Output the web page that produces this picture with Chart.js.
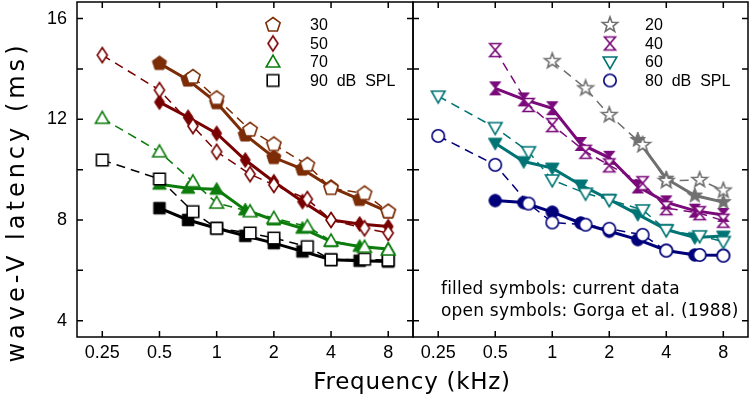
<!DOCTYPE html>
<html>
<head>
<meta charset="utf-8">
<script src="https://cdn.jsdelivr.net/npm/chart.js@4.4.0/dist/chart.umd.min.js"></script>
<style>
  body { margin: 0; background: #fff; }
  #wrap { position: relative; width: 751px; height: 402px; overflow: hidden; }
  .box { position: absolute; top: 0; height: 402px; }
  #leftBox { left: 0; width: 414px; }
  #rightBox { left: 400px; width: 351px; }
  #ytitle { position: absolute; left: -184px; top: 187px; width: 400px; height: 30px; line-height: 30px;
            text-align: center; transform: rotate(-90deg); font-family: 'DejaVu Sans'; font-size: 24px; letter-spacing: 4px; }
  #xtitle { position: absolute; left: 212px; top: 366px; width: 400px; height: 30px; line-height: 30px;
            text-align: center; font-family: 'DejaVu Sans'; font-size: 23px; letter-spacing: 0.7px; }
  #note { position: absolute; left: 441px; top: 277px; font-family: 'DejaVu Sans'; font-size: 17px;
          line-height: 22px; letter-spacing: 0.2px; white-space: pre; }
</style>
</head>
<body>
<div id="wrap">
  <div class="box" id="leftBox"><canvas id="leftChart"></canvas></div>
  <div class="box" id="rightBox"><canvas id="rightChart"></canvas></div>
  <div id="ytitle">wave-V latency (ms)</div>
  <div id="xtitle">Frequency (kHz)</div>
  <div id="note">filled symbols: current data
open symbols: Gorga et al. (1988)</div>
</div>
<script>
// frequencies (kHz)
const freqNew = [0.5, 0.707, 1, 1.414, 2, 2.828, 4, 5.657, 8];
const freqGorga = [0.25, 0.5, 0.75, 1, 1.5, 2, 3, 4, 6, 8];
const xTicks = [0.25, 0.5, 1, 2, 4, 8];
const yTicks = [4, 6, 8, 10, 12, 14, 16];

// left panel, latency in ms
const new30 = [14.22, 13.56, 12.66, 11.38, 10.48, 10.02, 9.30, 8.82, 8.32];
const gorga30 = [null, null, 13.68, 12.83, 11.58, 11.00, 10.19, 9.26, 9.05, 8.33];
const new50 = [12.68, 12.08, 11.44, 10.38, 9.52, 8.73, 8.00, 7.84, 7.74];
const gorga50 = [14.55, 13.16, 11.73, 10.71, 9.82, 9.39, 8.83, 8.00, 7.67, 7.48];
const new70 = [9.42, 9.26, 9.22, 8.40, 8.00, 7.67, 7.14, 6.95, 6.85];
const gorga70 = [12.04, 10.71, 9.52, 8.67, 8.33, 8.07, 7.74, 7.17, 6.92, 6.81];
const new90 = [8.47, 8.00, 7.67, 7.37, 7.08, 6.75, 6.42, 6.38, 6.35];
const gorga90 = [10.38, 9.63, 8.33, 7.67, 7.48, 7.28, 6.94, 6.42, 6.44, 6.40];

// right panel
const new20 = [null, null, null, null, null, 11.18, 9.64, 8.97, 8.71];
const gorga20 = [null, null, null, 14.31, 13.23, 12.17, 10.98, 9.55, 9.59, 9.17];
const new40 = [13.23, 12.79, 12.44, 11.02, 10.47, 9.33, 8.70, 8.37, 8.20];
const gorga40 = [null, 14.75, 12.57, 11.77, 10.71, 10.17, 9.46, 8.47, 8.27, 7.97];
const new60 = [11.05, 10.32, 10.06, 9.39, 8.82, 8.22, 7.62, 7.30, 7.36];
const gorga60 = [12.92, 11.67, 10.71, 9.59, 9.06, 8.80, 8.40, 7.60, 7.37, 7.14];
const new80 = [8.77, 8.69, 8.31, 7.88, 7.55, 7.22, 6.79, 6.61, 6.60];
const gorga80 = [11.34, 10.19, 8.65, 7.90, 7.81, 7.65, 7.41, 6.78, 6.61, 6.58];

const levelsLeft = ['30', '50', '70', '90  dB  SPL'];
const levelsRight = ['20', '40', '60', '80  dB  SPL'];

const C30 = '#7c2c06', C50 = '#780000', C70 = '#0c7c0c', C90 = '#000000';
const C20 = '#707070', C40 = '#7a0a7a', C60 = '#007474', C80 = '#00007a';

function polyPts(n, r, start) {
  const pts = [];
  for (let i = 0; i < n; i++) {
    const a = start + i * 2 * Math.PI / n;
    pts.push([r * Math.cos(a), r * Math.sin(a)]);
  }
  return pts;
}

// build a small canvas used as point style
function marker(shape, color, filled) {
  const c = document.createElement('canvas');
  c.width = 20; c.height = 20;
  const g = c.getContext('2d');
  g.translate(10, 10);
  g.beginPath();
  if (shape === 'circle') {
    g.arc(0, 0, 6.2, 0, Math.PI * 2);
  } else {
    let pts;
    if (shape === 'pentagon') pts = polyPts(5, 7.5, -Math.PI / 2);
    else if (shape === 'diamond') pts = [[0, -7.5], [5, 0], [0, 7.5], [-5, 0]];
    else if (shape === 'triangle') pts = [[0, -6.8], [6.8, 5], [-6.8, 5]];
    else if (shape === 'triangleDown') pts = [[0, 6.8], [6.8, -5], [-6.8, -5]];
    else if (shape === 'square') pts = [[-5.8, -5.8], [5.8, -5.8], [5.8, 5.8], [-5.8, 5.8]];
    else if (shape === 'hourglass') pts = [[-5.5, -6.5], [5.5, -6.5], [-5.5, 6.5], [5.5, 6.5]];
    else if (shape === 'star') {
      pts = [];
      for (let i = 0; i < 10; i++) {
        const r = i % 2 ? 3.3 : 8;
        const a = -Math.PI / 2 + i * Math.PI / 5;
        pts.push([r * Math.cos(a), r * Math.sin(a)]);
      }
    }
    g.moveTo(pts[0][0], pts[0][1]);
    pts.slice(1).forEach(p => g.lineTo(p[0], p[1]));
    g.closePath();
  }
  g.fillStyle = filled ? color : '#fff';
  g.fill();
  g.lineWidth = filled ? 1 : 1.6;
  g.strokeStyle = color;
  g.stroke();
  return c;
}

function series(freqs, vals, color, shape, filled) {
  const pts = [];
  vals.forEach((v, i) => { if (v !== null) pts.push({ x: freqs[i], y: v }); });
  return {
    data: pts,
    borderColor: color,
    borderWidth: filled ? 3 : 1.5,
    borderDash: filled ? [] : [9, 6],
    pointStyle: marker(shape, color, filled),
    pointRadius: 7,
    order: filled ? 1 : 0,
    tension: 0
  };
}

const framePlugin = {
  id: 'frame',
  afterDatasetsDraw(chart) {
    const { ctx, chartArea: a } = chart;
    const x = chart.scales.x, y = chart.scales.y;
    ctx.save();
    ctx.strokeStyle = '#000';
    ctx.lineWidth = 1.5;
    ctx.strokeRect(a.left, a.top, a.right - a.left, a.bottom - a.top);
    ctx.beginPath();
    xTicks.forEach(v => {
      const p = x.getPixelForValue(v);
      ctx.moveTo(p, a.bottom); ctx.lineTo(p, a.bottom - 6);
      ctx.moveTo(p, a.top); ctx.lineTo(p, a.top + 6);
    });
    yTicks.forEach(v => {
      const p = y.getPixelForValue(v);
      ctx.moveTo(a.left, p); ctx.lineTo(a.left + 6, p);
      ctx.moveTo(a.right, p); ctx.lineTo(a.right - 6, p);
    });
    ctx.stroke();
    ctx.restore();
  }
};

function legendPlugin(labels, marks, symX, textX) {
  const rows = [25, 43.5, 62, 80.5];
  return {
    id: 'levels',
    afterDraw(chart) {
      const ctx = chart.ctx;
      ctx.save();
      ctx.font = '16px "Liberation Sans"';
      ctx.fillStyle = '#000';
      ctx.textAlign = 'left';
      ctx.textBaseline = 'middle';
      labels.forEach((t, i) => {
        const m = marks[i];
        ctx.drawImage(m, symX - m.width / 2, rows[i] - m.height / 2);
        ctx.fillText(t, textX, rows[i] + 1);
      });
      ctx.restore();
    }
  };
}

function makeChart(id, datasets, showY, pad, legend) {
  new Chart(document.getElementById(id), {
    type: 'line',
    data: { datasets: datasets },
    options: {
      responsive: true,
      maintainAspectRatio: false,
      animation: false,
      events: [],
      layout: { padding: pad, autoPadding: false },
      plugins: { legend: { display: false }, tooltip: { enabled: false } },
      scales: {
        x: {
          type: 'logarithmic',
          min: 0.184, max: 10.8,
          afterBuildTicks: s => { s.ticks = xTicks.map(v => ({ value: v })); },
          afterFit: s => { s.height = 65; s.paddingLeft = 0; s.paddingRight = 0; },
          grid: { display: false, drawTicks: false },
          border: { display: false },
          ticks: {
            autoSkip: false, maxRotation: 0, padding: 5, color: '#000',
            font: { family: 'Liberation Sans', size: 18 },
            callback: v => String(v)
          }
        },
        y: {
          type: 'linear',
          min: 3.35, max: 16.66,
          afterBuildTicks: s => { s.ticks = yTicks.map(v => ({ value: v })); },
          afterFit: s => { s.width = showY ? 77 : 13; s.paddingTop = 0; s.paddingBottom = 0; },
          grid: { display: false, drawTicks: false },
          border: { display: false },
          ticks: {
            display: showY, autoSkip: false, padding: 10, color: '#000',
            font: { family: 'Liberation Sans', size: 18 },
            callback: v => (v % 4 === 0 ? String(v) : '')
          }
        }
      }
    },
    plugins: [framePlugin, legend]
  });
}

makeChart('leftChart', [
  series(freqGorga, gorga30, C30, 'pentagon', false),
  series(freqGorga, gorga50, C50, 'diamond', false),
  series(freqGorga, gorga70, C70, 'triangle', false),
  series(freqGorga, gorga90, C90, 'square', false),
  series(freqNew, new30, C30, 'pentagon', true),
  series(freqNew, new50, C50, 'diamond', true),
  series(freqNew, new70, C70, 'triangle', true),
  series(freqNew, new90, C90, 'square', true)
], true, { top: 2, right: 1, left: 0, bottom: 0 },
  legendPlugin(levelsLeft, [marker('pentagon', C30, false), marker('diamond', C50, false),
    marker('triangle', C70, false), marker('square', C90, false)], 273, 310));

makeChart('rightChart', [
  series(freqGorga, gorga20, C20, 'star', false),
  series(freqGorga, gorga40, C40, 'hourglass', false),
  series(freqGorga, gorga60, C60, 'triangleDown', false),
  series(freqGorga, gorga80, C80, 'circle', false),
  series(freqNew, new20, C20, 'star', true),
  series(freqNew, new40, C40, 'hourglass', true),
  series(freqNew, new60, C60, 'triangleDown', true),
  series(freqNew, new80, C80, 'circle', true)
], false, { top: 2, right: 3, left: 0, bottom: 0 },
  legendPlugin(levelsRight, [marker('star', C20, false), marker('hourglass', C40, false),
    marker('triangleDown', C60, false), marker('circle', C80, false)], 210, 245));
</script>
</body>
</html>
